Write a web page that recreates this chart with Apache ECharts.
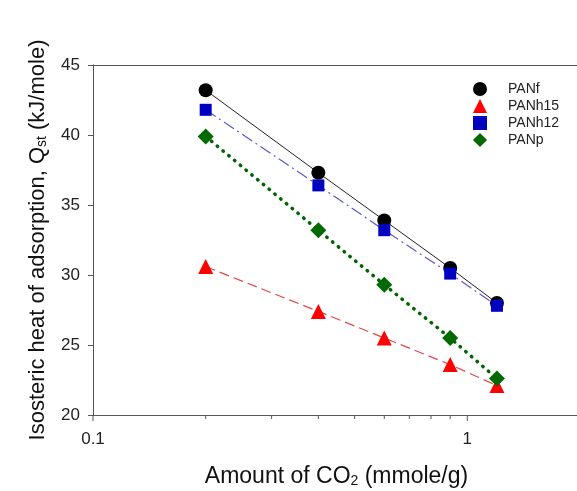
<!DOCTYPE html>
<html>
<head>
<meta charset="utf-8">
<script src="https://cdn.jsdelivr.net/npm/echarts@6/dist/echarts.min.js"></script>
<style>html,body{margin:0;padding:0;background:#fff;}#c{width:577px;height:491px;}</style>
</head>
<body>
<div id="c"></div>
<script>
const xValues = [0.2, 0.4, 0.6, 0.9, 1.2];
const PANf   = [43.2, 37.3, 33.9, 30.5, 28.0];
const PANh15 = [30.6, 27.4, 25.5, 23.6, 22.1];
const PANh12 = [41.8, 36.4, 33.2, 30.1, 27.8];
const PANp   = [39.9, 33.2, 29.3, 25.5, 22.6];
const majorTicks = [0.1, 1];
const minorTicks = [0.2, 0.3, 0.4, 0.5, 0.6, 0.7, 0.8, 0.9];
const xLabels = [0.1, 1];
const yTicks = [20, 25, 30, 35, 40, 45];

const FONT = 'Liberation Sans';
const pair = arr => xValues.map((x, i) => [x, arr[i]]);

const chart = echarts.init(document.getElementById('c'), null, {renderer: 'canvas'});
const axisColor = '#555';

function tickSeries(name, values, len) {
  return {
    name: name, type: 'custom', coordinateSystem: 'cartesian2d', clip: false, silent: true,
    data: values.map(x => [x, 20]),
    renderItem: function (params, api) {
      const p = api.coord([api.value(0), api.value(1)]);
      return {type: 'line', shape: {x1: p[0], y1: p[1], x2: p[0], y2: p[1] + len},
        style: {stroke: axisColor, lineWidth: 1}};
    }
  };
}

chart.setOption({
  animation: false,
  backgroundColor: '#fff',
  textStyle: {fontFamily: FONT},
  grid: {left: 93, top: 65, width: 487, height: 350, containLabel: false, outerBoundsMode: 'none', show: false},
  legend: {
    left: 468, top: 77, orient: 'vertical', itemWidth: 14, itemHeight: 14, itemGap: 3,
    textStyle: {fontFamily: FONT, fontSize: 14, color: '#222', padding: [0, 0, 0, 16]},
    data: [
      {name: 'PANf', icon: 'circle'},
      {name: 'PANh15', icon: 'triangle'},
      {name: 'PANh12', icon: 'rect'},
      {name: 'PANp', icon: 'diamond'}
    ]
  },
  xAxis: [{
    type: 'log', logBase: 10, min: 0.1, max: 2,
    name: '{n|Amount of CO}{s|2}{n| (mmole/g)}',
    nameLocation: 'middle', nameGap: 47,
    nameTextStyle: {
      rich: {
        n: {fontFamily: FONT, fontSize: 23, color: '#111', lineHeight: 26, verticalAlign: 'bottom'},
        s: {fontFamily: FONT, fontSize: 14, color: '#111', lineHeight: 8, verticalAlign: 'bottom'}
      }
    },
    axisLine: {show: true, lineStyle: {color: axisColor, width: 1}},
    axisTick: {show: false},
    axisLabel: {
      fontFamily: FONT, fontSize: 17, color: '#222', margin: 16,
      formatter: v => (xLabels.some(l => Math.abs(l - v) < 1e-9) ? String(v) : '')
    },
    splitLine: {show: false},
    minorTick: {show: false}
  }, {
    type: 'log', logBase: 10, min: 0.1, max: 2, position: 'top',
    axisLine: {show: true, lineStyle: {color: axisColor, width: 1}},
    axisTick: {show: false}, axisLabel: {show: false}, splitLine: {show: false}
  }],
  yAxis: {
    type: 'value', min: 20, max: 45, interval: 5,
    name: '{n|Isosteric heat of adsorption, Q}{s|st}{n| (kJ/mole)}',
    nameLocation: 'middle', nameGap: 44, nameRotate: 90,
    nameTextStyle: {
      rich: {
        n: {fontFamily: FONT, fontSize: 22, color: '#111', lineHeight: 26, verticalAlign: 'bottom'},
        s: {fontFamily: FONT, fontSize: 14, color: '#111', lineHeight: 8, verticalAlign: 'bottom'}
      }
    },
    axisLine: {show: true, lineStyle: {color: axisColor, width: 1}},
    axisTick: {show: true, inside: false, length: 5, lineStyle: {color: axisColor}},
    axisLabel: {fontFamily: FONT, fontSize: 17, color: '#222', margin: 13,
      formatter: v => (yTicks.includes(v) ? String(v) : '')},
    splitLine: {show: false}
  },
  series: [
    {
      name: 'PANf', type: 'line', data: pair(PANf), symbol: 'circle', symbolSize: 14,
      itemStyle: {color: '#000'}, lineStyle: {color: '#222', width: 1, type: 'solid'}, z: 2
    },
    {
      name: 'PANh15', type: 'line', data: pair(PANh15), symbol: 'triangle', symbolSize: 15,
      itemStyle: {color: '#ff0000'}, lineStyle: {color: '#e04848', width: 1.2, type: [10, 5]}, z: 3
    },
    {
      name: 'PANh12', type: 'line', data: pair(PANh12), symbol: 'rect', symbolSize: 12,
      itemStyle: {color: '#0000c0'}, lineStyle: {color: '#5a5ac8', width: 1.2, type: [12, 4, 2, 4]}, z: 4
    },
    {
      name: 'PANp', type: 'line', data: pair(PANp), symbol: 'diamond', symbolSize: 16,
      itemStyle: {color: '#006a00'}, lineStyle: {color: '#006400', width: 3.5, type: [0.5, 7], cap: 'round'}, z: 5
    },
    tickSeries('majorTicks', majorTicks, 6),
    tickSeries('minorTicks', minorTicks, 4)
  ]
});
</script>
</body>
</html>
